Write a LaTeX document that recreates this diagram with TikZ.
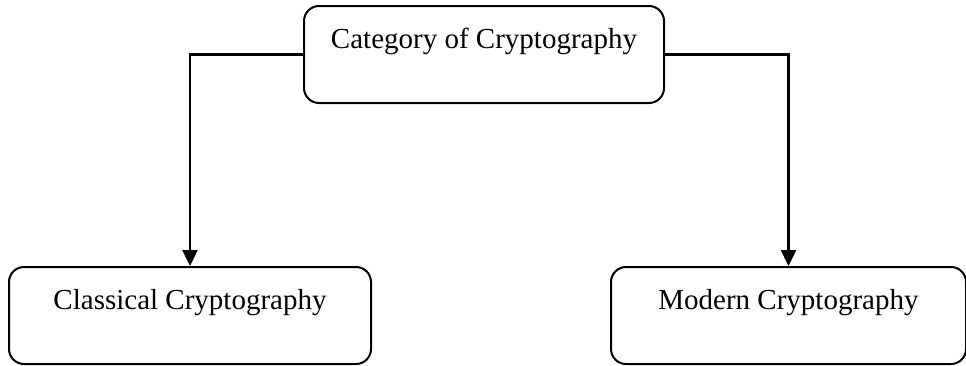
\documentclass[tikz,border=0pt]{standalone}
\usepackage{fontspec}
\setmainfont{Liberation Serif}
\usetikzlibrary{arrows.meta}
\begin{document}
\begin{tikzpicture}[x=1pt,y=-1pt,
  box/.style={draw, line width=2pt, rounded corners=15pt, anchor=north west,
    inner xsep=0pt, inner ysep=0pt, text height=42pt, text depth=55pt,
    font=\fontsize{29}{34}\selectfont, align=center},
  link/.style={draw, line width=2.4pt, -{Triangle[length=16pt,width=15pt]}}]
\useasboundingbox (0,0) rectangle (966,365);
\node[box, minimum width=360pt] (top) at (303,5) {Category of Cryptography};
\node[box, minimum width=362pt] (left) at (8,266) {Classical Cryptography};
\node[box, minimum width=355pt] (right) at (610,266) {Modern Cryptography};
\path[link] (top.west) -| (left.north);
\path[link] (top.east) -| (right.north);
\end{tikzpicture}
\end{document}
